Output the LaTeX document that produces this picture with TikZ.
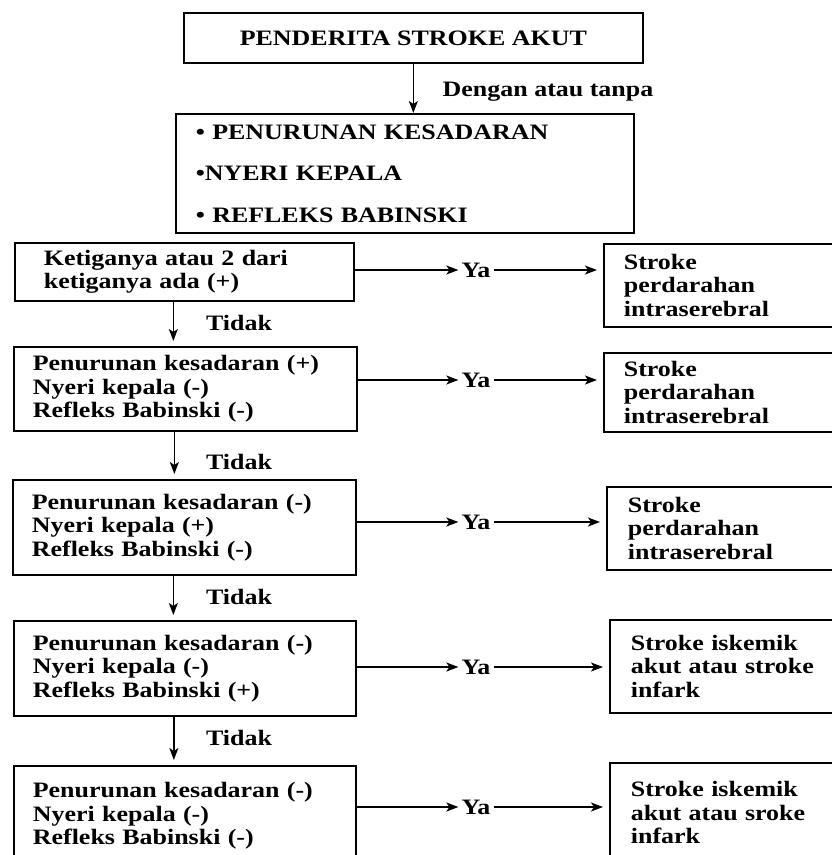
\documentclass[tikz,border=0pt]{standalone}
\usepackage{fontspec}
\setmainfont{Liberation Serif}[FakeStretch=1.18]
\usetikzlibrary{arrows.meta}
\tikzset{
	kotak/.style={draw, line width=1.7pt, anchor=north west, align=left, inner ysep=0pt},
	panah/.style={-{Stealth[length=12pt, width=9pt, inset=3pt]}, line width=1.5pt},
	teks/.style={inner sep=3pt},
}

\begin{document}
\begin{tikzpicture}[x=1pt, y=-1pt, font=\fontsize{22pt}{23.5pt}\selectfont\bfseries]
\useasboundingbox (0,0) rectangle (832,855);

\node[kotak, align=center, minimum width=459pt, minimum height=50pt] (awal) at (183,12) {PENDERITA STROKE AKUT};
\node[kotak, text width=418pt, inner xsep=20pt, minimum height=119pt] (gejala) at (175,113)
	{\textbullet\ PENURUNAN KESADARAN\\[18pt]\textbullet NYERI KEPALA\\[18pt]\textbullet\ REFLEKS BABINSKI};
\draw[panah] (awal.south) -- (awal.south |- gejala.north);
\node[teks] (dengan) at (548,92) {Dengan atau tanpa};

% kolom kiri
\node[kotak, text width=281pt, inner xsep=29pt, minimum height=58pt] (k1) at (14,242)
	{Ketiganya atau 2 dari\\ketiganya ada (+)};
\node[kotak, text width=305pt, inner xsep=19pt, minimum height=84pt] (k2) at (13,346)
	{Penurunan kesadaran (+)\\Nyeri kepala (-)\\Refleks Babinski (-)};
\node[kotak, text width=305pt, inner xsep=19pt, minimum height=95pt] (k3) at (12,479)
	{Penurunan kesadaran (-)\\Nyeri kepala (+)\\Refleks Babinski (-)};
\node[kotak, text width=304pt, inner xsep=19pt, minimum height=95pt] (k4) at (13,620)
	{Penurunan kesadaran (-)\\Nyeri kepala (-)\\Refleks Babinski (+)};
\node[kotak, text width=304pt, inner xsep=19pt, minimum height=100pt] (k5) at (13,765)
	{Penurunan kesadaran (-)\\Nyeri kepala (-)\\Refleks Babinski (-)};

% kolom kanan
\node[kotak, text width=200pt, inner xsep=20pt, minimum height=83pt] (r1) at (603,243)
	{Stroke\\perdarahan\\intraserebral};
\node[kotak, text width=200pt, inner xsep=20pt, minimum height=79pt] (r2) at (603,352)
	{Stroke\\perdarahan\\intraserebral};
\node[kotak, text width=200pt, inner xsep=21pt, minimum height=83pt] (r3) at (606,486)
	{Stroke\\perdarahan\\intraserebral};
\node[kotak, text width=200pt, inner xsep=21pt, minimum height=93pt] (r4) at (609,619)
	{Stroke iskemik\\akut atau stroke\\infark};
\node[kotak, text width=200pt, inner xsep=21pt, minimum height=100pt] (r5) at (609,762)
	{Stroke iskemik\\akut atau sroke\\infark};

\foreach \i/\yy in {1/270, 2/380, 3/522, 4/667, 5/807}{
	\node[teks] (ya\i) at (476,\yy) {Ya};
	\draw[panah] (k\i.east |- ya\i) -- (ya\i.west);
	\draw[panah, shorten >=6pt] (ya\i.east) -- (r\i.west |- ya\i);
}

\foreach \i/\j/\yy in {1/2/323, 2/3/462, 3/4/597, 4/5/738}{
	\draw[panah, shorten >=5pt] ([xshift=-11pt]k\i.south) -- ([xshift=-11pt]k\i.south |- k\j.north);
	\node[teks] (tidak\i) at (239,\yy) {Tidak};
}
\end{tikzpicture}
\end{document}
